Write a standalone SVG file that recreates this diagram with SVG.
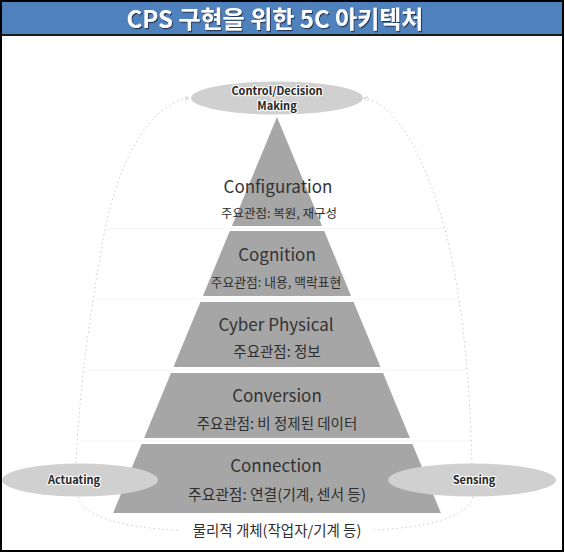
<svg xmlns="http://www.w3.org/2000/svg" width="565" height="553" viewBox="0 0 565 553">
<defs>
<filter id="shadow" x="-20%" y="-60%" width="140%" height="220%">
<feDropShadow dx="1" dy="1.2" stdDeviation="0.7" flood-color="#1c2f4a" flood-opacity="0.9"/>
</filter>
<marker id="tip" viewBox="0 0 6 6" refX="5" refY="3" markerWidth="5" markerHeight="5" orient="auto-start-reverse" markerUnits="userSpaceOnUse">
<path d="M0,0.5 L5,3 L0,5.5" fill="none" stroke="#cccccc" stroke-width="1"/>
</marker>
</defs>
<style>
.layer{fill:#a6a6a6}
.ttl{font-family:"Noto Sans CJK KR","Noto Sans",sans-serif;font-size:17px;fill:#333;text-anchor:middle}
.sub{font-family:"Noto Sans CJK KR","Noto Sans",sans-serif;font-size:13px;fill:#2e2e2e;text-anchor:middle}
.oval{fill:#d0d0d0}
.olab{font-family:"Noto Sans CJK KR","Noto Sans",sans-serif;font-size:11px;font-weight:bold;fill:#262626;text-anchor:middle;stroke:#ffffff;stroke-width:2.4px;stroke-opacity:0.85;paint-order:stroke;stroke-linejoin:round}
.dot{fill:none;stroke:#cbcbcb;stroke-width:1;stroke-dasharray:1.5 3}
.faint{stroke:#f4f4f4;stroke-width:1}
</style>
<rect x="0" y="0" width="565" height="553" fill="#ffffff"/>
<g id="title">
<rect x="2" y="2" width="561" height="33" fill="#4f81bd"/>
<line x1="2" y1="35" x2="563" y2="35" stroke="#1a1a1a" stroke-width="2"/>
<text x="275" y="27.5" filter="url(#shadow)" style="font-family:'Noto Sans CJK KR','Noto Sans',sans-serif;font-size:24px;font-weight:bold;fill:#ffffff;text-anchor:middle">CPS 구현을 위한 5C 아키텍처</text>
</g>
<g id="guides">
<line class="faint" x1="106" y1="228.5" x2="447" y2="228.5"/>
<line class="faint" x1="96" y1="299" x2="458" y2="299"/>
<line class="faint" x1="88" y1="370" x2="466" y2="370"/>
<line class="faint" x1="80" y1="441" x2="471" y2="441"/>
</g>
<g id="connectors">
<path class="dot" d="M76,463 C80,380 92,300 104,235 C118,160 150,104 189,98" marker-end="url(#tip)"/>
<path class="dot" d="M472,464 C470,380 462,300 447,237 C430,170 400,104 364,98" marker-end="url(#tip)"/>
<path class="dot" d="M78,497 C82,515 120,528 178,530"/>
<path class="dot" d="M473,497 C470,515 430,528 372,530"/>
</g>
<g id="layer-configuration">
<polygon class="layer" points="277,117 322.1,226 231.9,226"/>
<text class="ttl" x="278" y="193">Configuration</text>
<text class="sub" x="279" y="218" style="font-size:12.5px">주요관점: 복원, 재구성</text>
</g>
<g id="layer-cognition">
<polygon class="layer" points="229.8,231 324.2,231 351.1,296 202.9,296"/>
<text class="ttl" x="277" y="261">Cognition</text>
<text class="sub" x="276" y="287" style="font-size:12.8px">주요관점: 내용, 맥락표현</text>
</g>
<g id="layer-cyber-physical">
<polygon class="layer" points="200.4,302 353.6,302 380.5,367 173.5,367"/>
<text class="ttl" x="276" y="331">Cyber Physical</text>
<text class="sub" x="277" y="357" style="font-size:14.5px">주요관점: 정보</text>
</g>
<g id="layer-conversion">
<polygon class="layer" points="171,373 383,373 409.9,438 144.1,438"/>
<text class="ttl" x="277" y="402">Conversion</text>
<text class="sub" x="277" y="429" style="font-size:14.5px">주요관점: 비 정제된 데이터</text>
</g>
<g id="layer-connection">
<polygon class="layer" points="141.6,444 412.4,444 440.9,513 113.1,513"/>
<text class="ttl" x="276" y="472">Connection</text>
<text class="sub" x="277" y="500" style="font-size:14.8px">주요관점: 연결(기계, 센서 등)</text>
</g>
<g id="control-decision">
<ellipse class="oval" cx="277" cy="98" rx="86" ry="16.5"/>
<text class="olab" x="277" y="95">Control/Decision</text>
<text class="olab" x="277" y="110">Making</text>
</g>
<g id="actuating">
<ellipse class="oval" cx="80" cy="480" rx="78" ry="16.5"/>
<text class="olab" x="74" y="484">Actuating</text>
</g>
<g id="sensing">
<ellipse class="oval" cx="472" cy="480" rx="84" ry="16.5"/>
<text class="olab" x="474" y="484">Sensing</text>
</g>
<g id="physical-object">
<text class="sub" x="277" y="536" style="font-size:14.5px">물리적 개체(작업자/기계 등)</text>
</g>
<rect x="1" y="1" width="562" height="550" fill="none" stroke="#000000" stroke-width="2"/>
</svg>
